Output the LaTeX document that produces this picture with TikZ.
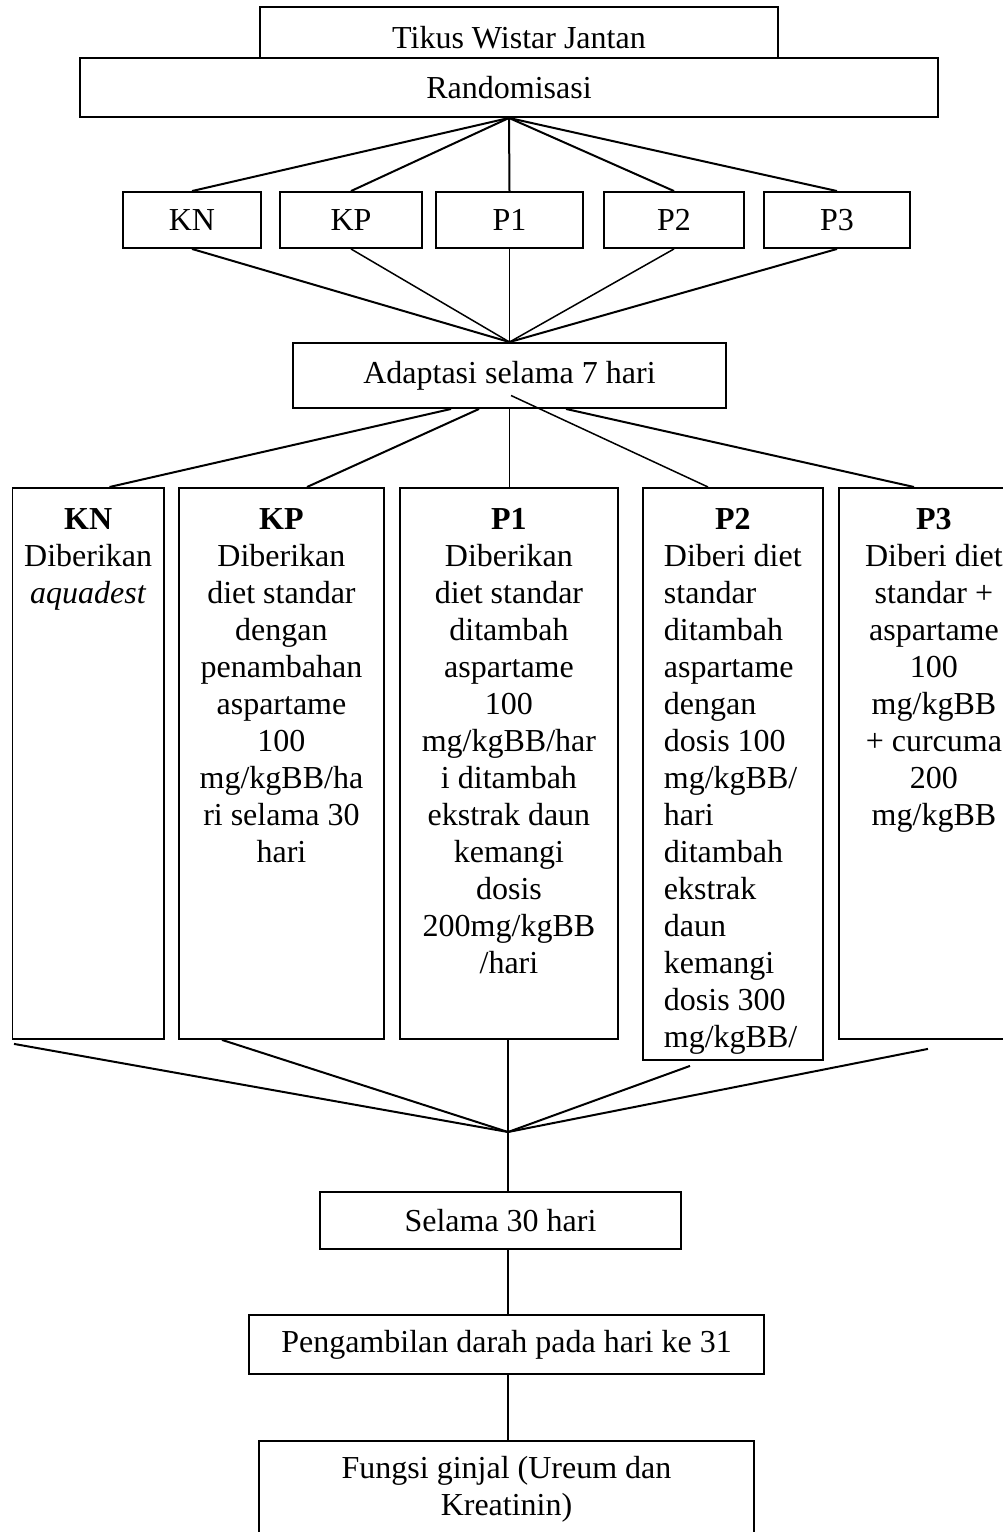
\documentclass[tikz,border=0pt]{standalone}
\usepackage{fontspec}
\setmainfont{Liberation Serif}
\usetikzlibrary{calc}
\newcommand\topgap{\rule{0pt}{42pt}}
\begin{document}
\begin{tikzpicture}[x=1pt,y=-1pt,font=\fontsize{32pt}{37pt}\selectfont,
  box/.style={draw,line width=1.9pt,inner sep=0pt,fill=white},
  link/.style={line width=1.5pt},
  thicklink/.style={line width=2pt}]
\useasboundingbox (0,0) rectangle (1002,1532);
% top boxes
\node[box,minimum width=518pt,minimum height=61pt] (tikus) at (519,37.5) {Tikus Wistar Jantan};
\node[box,minimum width=858pt,minimum height=59pt] (rand) at (509,87.5) {Randomisasi};
% small group boxes
\node[box,minimum width=138pt,minimum height=56pt] (skn) at (192,220) {KN};
\node[box,minimum width=142pt,minimum height=56pt] (skp) at (351,220) {KP};
\node[box,minimum width=147pt,minimum height=56pt] (sp1) at (509.5,220) {P1};
\node[box,minimum width=140pt,minimum height=56pt] (sp2) at (674,220) {P2};
\node[box,minimum width=146pt,minimum height=56pt] (sp3) at (837,220) {P3};
% adaptation
\node[box,minimum width=433pt,minimum height=65pt] (adapt) at (509.5,375.5) {Adaptasi selama 7 hari};
% big boxes
\node[box,anchor=north west] (bkn) at (11.5,487) {\parbox[b][551pt][t]{151.5pt}{\centering\topgap\textbf{KN}\\Diberikan\\\textit{aquadest}}};
\node[box,anchor=north west] (bkp) at (178,487) {\parbox[b][551pt][t]{205pt}{\centering\topgap\textbf{KP}\\Diberikan\\diet standar\\dengan\\penambahan\\aspartame\\100\\mg/kgBB/ha\\ri selama 30\\hari}};
\node[box,anchor=north west] (bp1) at (399,487) {\parbox[b][551pt][t]{218pt}{\centering\topgap\textbf{P1}\\Diberikan\\diet standar\\ditambah\\aspartame\\100\\mg/kgBB/har\\i ditambah\\ekstrak daun\\kemangi\\dosis\\200mg/kgBB\\/hari}};
\node[box,anchor=north west] (bp2) at (642,487) {\parbox[b][572pt][t]{180pt}{{\centering\topgap\textbf{P2}\par}\raggedright\leftskip=21pt Diberi diet\\standar\\ditambah\\aspartame\\dengan\\dosis 100\\mg/kgBB/\\hari\\ditambah\\ekstrak\\daun\\kemangi\\dosis 300\\mg/kgBB/}};
\node[box,anchor=north west] (bp3) at (838,487) {\parbox[b][551pt][t]{190pt}{\centering\topgap\textbf{P3}\\Diberi diet\\standar +\\aspartame\\100\\mg/kgBB\\+ curcuma\\200\\mg/kgBB}};
% lower boxes
\node[box,minimum width=361pt,minimum height=57pt] (selama) at (500.5,1220.5) {Selama 30 hari};
\node[box,minimum width=515pt,minimum height=59pt] (peng) at (506.5,1344.5) {Pengambilan darah pada hari ke 31};
\node[box,minimum width=495pt,minimum height=96pt,align=center] (fungsi) at (506.5,1489) {Fungsi ginjal (Ureum dan\\Kreatinin)};
\coordinate (m) at (508,1132);
% fan 1: Randomisasi -> groups
\foreach \n in {skn,skp,sp1,sp2,sp3}
  \draw[thicklink] (rand.south) -- (\n.north);
% fan 2: groups -> Adaptasi
\draw[thicklink] (skn.south) -- (adapt.north);
\draw[link] (skp.south) -- (adapt.north);
\draw[link] (sp1.south) -- (adapt.north);
\draw[link] (sp2.south) -- (adapt.north);
\draw[thicklink] (sp3.south) -- (adapt.north);
% fan 3: Adaptasi -> treatment boxes
\draw[thicklink] ($(adapt.south west)+(159,0)$) -- ($(bkn.north west)+(98,0)$);
\draw[thicklink] ($(adapt.south west)+(187,0)$) -- ($(bkp.north west)+(129,0)$);
\draw[link] (adapt.south) -- (adapt.south |- bp1.north);
\draw[link] ($(adapt.center)+(1.5,20)$) -- ($(bp2.north west)+(66,0)$);
\draw[thicklink] ($(adapt.south west)+(274,0)$) -- ($(bp3.north west)+(76,0)$);
% fan 4: treatment boxes -> merge
\draw[thicklink] ($(bkn.south west)+(2.5,4)$) -- (m);
\draw[thicklink] ($(bkp.south west)+(44,0)$) -- (m);
\draw[link] (bp1.south -| m) -- (m);
\draw[thicklink] ($(bp2.south west)+(48,5)$) -- (m);
\draw[thicklink] ($(bp3.south west)+(90,9)$) -- (m);
% vertical chain
\draw[link] (m) -- (m |- selama.north);
\draw[link] (selama.south -| m) -- (m |- peng.north);
\draw[link] (peng.south -| m) -- (m |- fungsi.north);
\end{tikzpicture}
\end{document}
